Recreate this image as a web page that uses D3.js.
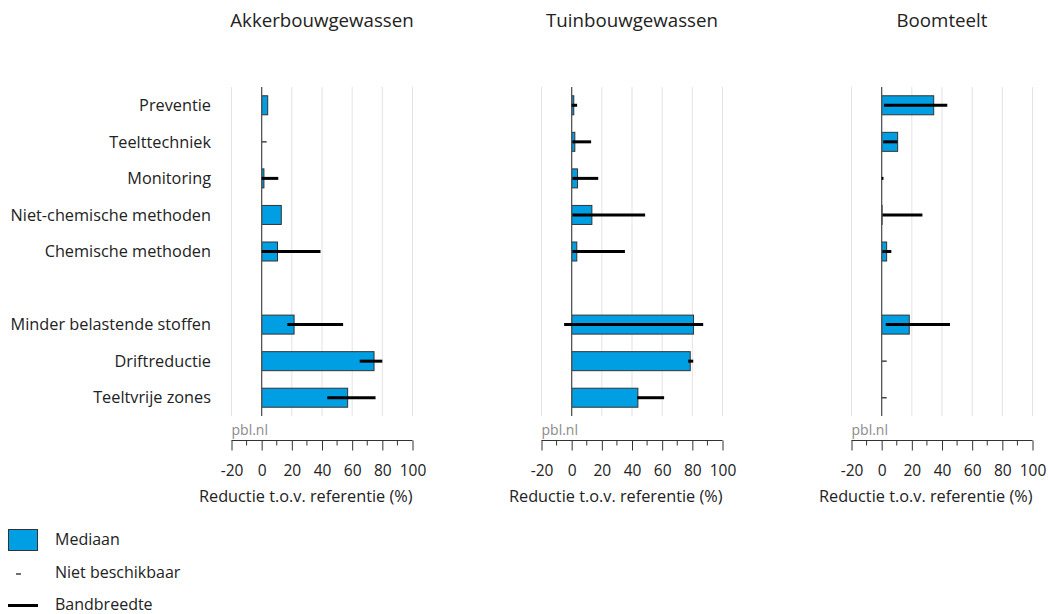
<!DOCTYPE html>
<html><head><meta charset="utf-8">
<script src="https://cdn.jsdelivr.net/npm/d3@7/dist/d3.min.js"></script>
<style>
body{margin:0;background:#fff;}
svg{font-family:"Open Sans","Noto Sans",sans-serif;}
</style></head>
<body><svg id="c" width="1048" height="614"></svg>
<script>
const panels = ["Akkerbouwgewassen", "Tuinbouwgewassen", "Boomteelt"];
const categories = ["Preventie", "Teelttechniek", "Monitoring", "Niet-chemische methoden", "Chemische methoden", "Minder belastende stoffen", "Driftreductie", "Teeltvrije zones"];
const yDomain = ["Preventie", "Teelttechniek", "Monitoring", "Niet-chemische methoden", "Chemische methoden", "", "Minder belastende stoffen", "Driftreductie", "Teeltvrije zones"];
const xTicks = [-20, 0, 20, 40, 60, 80, 100];
const minorTicks = [-10, 10, 30, 50, 70, 90];

// median values (null = niet beschikbaar / geen mediaan)
const akkerMedian = [4, null, 1.5, 13, 10.5, 21.5, 74.5, 57];
const akkerLow    = [null, null, 0, null, 0, 17, 65, 43.5];
const akkerHigh   = [null, null, 11, null, 39, 54, 80, 75.5];

const tuinMedian = [1.4, 2.1, 3.9, 13.4, 3.4, 80.8, 78.6, 43.9];
const tuinLow    = [0, 0.5, 0.5, 0.5, 0.5, -5, 77.2, 43.4];
const tuinHigh   = [3.6, 12.9, 17.6, 48.7, 35.3, 87.2, 80.6, 61.3];

const boomMedian = [34.5, 10.6, null, 0.3, 3.3, 18.3, null, null];
const boomLow    = [1.5, 1, 0, 0.5, 0.5, 2.7, null, null];
const boomHigh   = [43.5, 10.4, 1.2, 27, 6.4, 45.3, null, null];

const medians = [akkerMedian, tuinMedian, boomMedian];
const lows = [akkerLow, tuinLow, boomLow];
const highs = [akkerHigh, tuinHigh, boomHigh];

const svg = d3.select("#c");
const blue = "#009fe3";
const plotTop = 87, plotBottom = 416, panelW = 181, firstLeft = 231.5, panelStep = 310;

const y = d3.scaleBand().domain(yDomain).range([plotTop, plotBottom]).paddingInner(0.48).paddingOuter(0.24);

// category labels
svg.append("g").selectAll("text").data(categories).join("text")
  .attr("x", 211).attr("y", d => y(d) + y.bandwidth()/2)
  .attr("dy", "0.35em").attr("text-anchor", "end")
  .attr("font-size", 16.3).attr("fill", "#222").text(d => d);

panels.forEach((p, i) => {
  const left = firstLeft + i * panelStep;
  const x = d3.scaleLinear().domain([-20, 100]).range([left, left + panelW]);
  const g = svg.append("g");

  // title
  g.append("text").attr("x", (x(-20) + x(100)) / 2).attr("y", 27)
    .attr("text-anchor", "middle").attr("font-size", 18.7).attr("fill", "#222").text(p);

  // gridlines
  g.append("g").selectAll("line").data(xTicks.filter(t => t !== 0)).join("line")
    .attr("x1", d => x(d)).attr("x2", d => x(d)).attr("y1", plotTop).attr("y2", plotBottom)
    .attr("stroke", "#e3e3e3").attr("stroke-width", 1);

  const rows = categories.map((c, k) => ({c, m: medians[i][k], lo: lows[i][k], hi: highs[i][k]}));

  // bars
  g.append("g").selectAll("rect").data(rows.filter(r => r.m !== null)).join("rect")
    .attr("x", r => x(0)).attr("y", r => y(r.c))
    .attr("width", r => Math.max(0, x(r.m) - x(0))).attr("height", y.bandwidth())
    .attr("fill", blue).attr("stroke", "#333").attr("stroke-width", 1);

  // niet beschikbaar dashes
  g.append("g").selectAll("line").data(rows.filter(r => r.m === null && r.lo === null)).join("line")
    .attr("x1", x(0)).attr("x2", x(0) + 5)
    .attr("y1", r => y(r.c) + y.bandwidth()/2).attr("y2", r => y(r.c) + y.bandwidth()/2)
    .attr("stroke", "#444").attr("stroke-width", 1.5);

  // zero line
  g.append("line").attr("x1", x(0)).attr("x2", x(0)).attr("y1", plotTop).attr("y2", plotBottom)
    .attr("stroke", "#555").attr("stroke-width", 1.3);

  // bandwidth lines
  g.append("g").selectAll("line").data(rows.filter(r => r.lo !== null)).join("line")
    .attr("x1", r => x(r.lo)).attr("x2", r => x(r.hi))
    .attr("y1", r => y(r.c) + y.bandwidth()/2).attr("y2", r => y(r.c) + y.bandwidth()/2)
    .attr("stroke", "#000").attr("stroke-width", 3);

  // pbl.nl
  g.append("text").attr("x", x(-20)).attr("y", 435).attr("font-size", 14)
    .attr("fill", "#8a8a8a").text("pbl.nl");

  // axis
  const ax = g.append("g").attr("transform", "translate(0,440.5)")
    .call(d3.axisBottom(x).tickValues(xTicks).tickSize(10).tickPadding(14).tickFormat(d => String(d)));
  ax.select(".domain").attr("stroke", "#333").attr("d", `M${x(-20)},0H${x(100)}`);
  ax.selectAll(".tick line").attr("stroke", "#333");
  ax.selectAll(".tick text").attr("font-size", 15.5).attr("fill", "#222")
    .attr("font-family", "'Open Sans', sans-serif");
  ax.append("g").selectAll("line").data(minorTicks).join("line")
    .attr("x1", d => x(d)).attr("x2", d => x(d)).attr("y1", 0).attr("y2", 5)
    .attr("stroke", "#333");

  g.append("text").attr("x", x(100)).attr("y", 502).attr("text-anchor", "end")
    .attr("font-size", 16.3).attr("fill", "#222").text("Reductie t.o.v. referentie (%)");
});

// legend
const lg = svg.append("g");
lg.append("rect").attr("x", 8.5).attr("y", 529.5).attr("width", 29).attr("height", 21)
  .attr("fill", blue).attr("stroke", "#333");
lg.append("text").attr("x", 55).attr("y", 545).attr("font-size", 16).attr("fill", "#222").text("Mediaan");
lg.append("line").attr("x1", 16).attr("x2", 21).attr("y1", 574).attr("y2", 574).attr("stroke", "#222").attr("stroke-width", 1.3);
lg.append("text").attr("x", 55).attr("y", 578).attr("font-size", 16).attr("fill", "#222").text("Niet beschikbaar");
lg.append("line").attr("x1", 8).attr("x2", 38).attr("y1", 605.5).attr("y2", 605.5).attr("stroke", "#000").attr("stroke-width", 3);
lg.append("text").attr("x", 55).attr("y", 609.5).attr("font-size", 16).attr("fill", "#222").text("Bandbreedte");
</script></body></html>
